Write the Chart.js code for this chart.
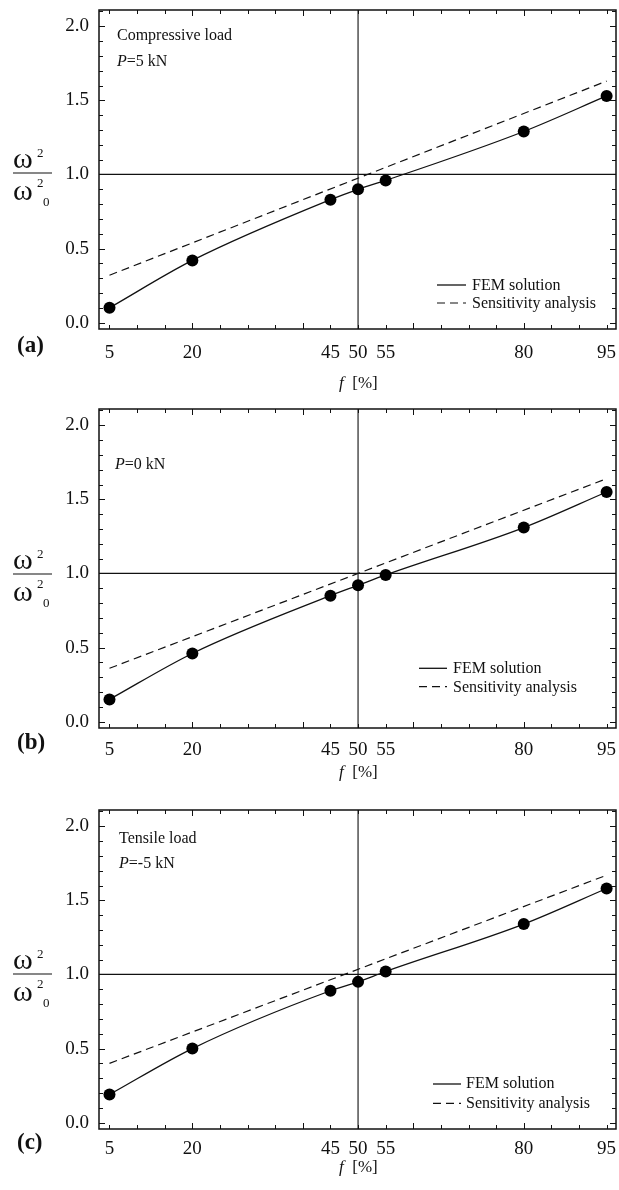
<!DOCTYPE html>
<html>
<head>
<meta charset="utf-8">
<script src="https://cdn.jsdelivr.net/npm/chart.js@4.4.1/dist/chart.umd.min.js"></script>
<style>
  html, body { margin: 0; padding: 0; background: #fff; }
  body { width: 619px; height: 1190px; position: relative; overflow: hidden; }
  canvas { position: absolute; left: 0; }
</style>
</head>
<body>
<canvas id="chartA" width="619" height="400" style="top:0px"></canvas>
<canvas id="chartB" width="619" height="400" style="top:399px"></canvas>
<canvas id="chartC" width="619" height="390" style="top:800px"></canvas>
<script>
// values
var fValues = [5, 20, 45, 50, 55, 80, 95];
var femCompressive = [0.10, 0.42, 0.83, 0.90, 0.96, 1.29, 1.53];
var femZero = [0.15, 0.46, 0.85, 0.92, 0.99, 1.31, 1.55];
var femTensile = [0.19, 0.50, 0.89, 0.95, 1.02, 1.34, 1.58];

var sensF = [5, 95];
var sensCompressive = [0.32, 1.63];
var sensZero = [0.36, 1.64];
var sensTensile = [0.40, 1.67];

var xTickLabels = [5, 20, 45, 50, 55, 80, 95];
var yTickLabels = [0.0, 0.5, 1.0, 1.5, 2.0];

var X_MIN = 3.1, X_MAX = 96.7;
var Y_MIN = -0.043, Y_MAX = 2.11;
var REF_Y = 1.0, REF_X = 50;

var SERIF = '"Liberation Serif", "Times New Roman", serif';
var INK = '#111';

function drawParts(ctx, parts, x, y, size) {
  parts.forEach(function (p) {
    ctx.font = (p.i ? 'italic ' : '') + (p.b ? 'bold ' : '') + size + 'px ' + SERIF;
    ctx.fillText(p.t, x, y);
    x += ctx.measureText(p.t).width;
  });
}

function seg(ctx, x1, y1, x2, y2) {
  ctx.beginPath();
  ctx.moveTo(x1, y1);
  ctx.lineTo(x2, y2);
  ctx.stroke();
}

// frame with inward ticks on all four sides, plus the annotation texts
var decorations = {
  id: 'decorations',
  afterDraw: function (chart) {
    var ctx = chart.ctx, a = chart.chartArea;
    var xs = chart.scales.x, ys = chart.scales.y;
    var o = chart.options.plugins.decorations;
    ctx.save();
    ctx.strokeStyle = INK;
    ctx.fillStyle = INK;
    ctx.lineWidth = 1;

    for (var v = 5; v <= 95; v += 5) {
      var px = Math.round(xs.getPixelForValue(v)) + 0.5;
      var len = v % 20 === 0 ? 6 : 4;
      seg(ctx, px, a.bottom, px, a.bottom - len);
      seg(ctx, px, a.top, px, a.top + len);
    }
    for (var i = 0; i <= 21; i++) {
      var py = Math.round(ys.getPixelForValue(i / 10)) + 0.5;
      var l2 = i % 5 === 0 ? 6 : 4;
      seg(ctx, a.left, py, a.left + l2, py);
      seg(ctx, a.right, py, a.right - l2, py);
    }
    ctx.lineWidth = 1.5;
    ctx.strokeRect(a.left, a.top, a.right - a.left, a.bottom - a.top);

    // notes in the upper left corner
    ctx.textBaseline = 'alphabetic';
    ctx.textAlign = 'left';
    o.notes.forEach(function (parts, k) {
      drawParts(ctx, parts, o.noteX, o.noteY[k], 16);
    });

    // legend
    var lg = o.legend;
    [0, 1].forEach(function (k) {
      var ds = chart.data.datasets[k];
      ctx.lineWidth = ds.borderWidth;
      ctx.setLineDash(ds.borderDash || []);
      seg(ctx, lg.x0, lg.y[k], lg.x1, lg.y[k]);
      ctx.setLineDash([]);
      drawParts(ctx, [{ t: ds.label }], lg.tx, lg.by[k], 16);
    });

    // y axis label  omega^2 / omega^2_0
    ctx.font = '30px ' + SERIF;
    ctx.fillText('\u03C9', 13, o.yl - 5);
    ctx.fillText('\u03C9', 13, o.yl + 27);
    ctx.font = '13px ' + SERIF;
    ctx.fillText('2', 37, o.yl - 16);
    ctx.fillText('2', 37, o.yl + 14);
    ctx.fillText('0', 43, o.yl + 33);
    ctx.lineWidth = 1.2;
    seg(ctx, 13, o.yl, 52, o.yl);

    // panel letter
    drawParts(ctx, [{ t: o.letter, b: 1 }], 17, o.letterY, 23);

    // x axis title
    drawParts(ctx, [{ t: 'f', i: 1 }, { t: '  [%]' }], 339, o.titleY, 17);
    ctx.restore();
  }
};

function makePanel(id, h, fem, sens, deco) {
  var femPts = fValues.map(function (f, i) { return { x: f, y: fem[i] }; });
  var sensPts = sensF.map(function (f, i) { return { x: f, y: sens[i] }; });
  return new Chart(document.getElementById(id), {
    type: 'line',
    data: {
      datasets: [
        {
          label: 'FEM solution',
          data: femPts,
          borderColor: INK,
          borderWidth: 1.3,
          pointRadius: 6,
          pointBackgroundColor: '#000',
          pointBorderWidth: 0,
          cubicInterpolationMode: 'monotone'
        },
        {
          label: 'Sensitivity analysis',
          data: sensPts,
          borderColor: INK,
          borderWidth: 1.2,
          borderDash: [8, 5],
          pointRadius: 0
        },
        {
          label: 'ref-h',
          data: [{ x: X_MIN, y: REF_Y }, { x: X_MAX, y: REF_Y }],
          borderColor: INK,
          borderWidth: 1.3,
          pointRadius: 0
        },
        {
          label: 'ref-v',
          data: [{ x: REF_X, y: Y_MIN }, { x: REF_X, y: Y_MAX }],
          borderColor: INK,
          borderWidth: 1.1,
          pointRadius: 0
        }
      ]
    },
    options: {
      responsive: false,
      animation: false,
      devicePixelRatio: 1,
      layout: { autoPadding: false, padding: { top: 10, right: 3, left: 0, bottom: 0 } },
      scales: {
        x: {
          type: 'linear',
          min: X_MIN,
          max: X_MAX,
          afterBuildTicks: function (s) { s.ticks = xTickLabels.map(function (v) { return { value: v }; }); },
          afterFit: function (s) {
            s.height = h - 329;
            s.paddingLeft = 0;
            s.paddingRight = 0;
          },
          grid: { display: false, drawTicks: false },
          border: { display: false },
          ticks: {
            autoSkip: false,
            maxRotation: 0,
            padding: deco.tickPad,
            color: INK,
            font: { family: SERIF, size: 19 }
          }
        },
        y: {
          type: 'linear',
          min: Y_MIN,
          max: Y_MAX,
          afterBuildTicks: function (s) { s.ticks = yTickLabels.map(function (v) { return { value: v }; }); },
          afterFit: function (s) {
            s.width = 99;
            s.paddingTop = 0;
            s.paddingBottom = 0;
          },
          grid: { display: false, drawTicks: false },
          border: { display: false },
          ticks: {
            padding: 10,
            color: INK,
            font: { family: SERIF, size: 19 },
            callback: function (v) { return Number(v).toFixed(1); }
          }
        }
      },
      plugins: {
        legend: { display: false },
        tooltip: { enabled: false },
        decorations: deco
      }
    },
    plugins: [decorations]
  });
}

makePanel('chartA', 400, femCompressive, sensCompressive, {
  notes: [[{ t: 'Compressive load' }], [{ t: 'P', i: 1 }, { t: '=5 kN' }]],
  noteX: 117, noteY: [39.5, 66],
  legend: { x0: 437, x1: 466, tx: 472, y: [285, 303], by: [290, 307.5] },
  yl: 173, letter: '(a)', letterY: 352, tickPad: 13, titleY: 388
});

makePanel('chartB', 400, femZero, sensZero, {
  notes: [[{ t: 'P', i: 1 }, { t: '=0 kN' }]],
  noteX: 115, noteY: [70],
  legend: { x0: 419, x1: 447, tx: 453, y: [269.3, 287.7], by: [274.3, 292.7] },
  yl: 175, letter: '(b)', letterY: 350, tickPad: 11, titleY: 377.5
});

makePanel('chartC', 390, femTensile, sensTensile, {
  notes: [[{ t: 'Tensile load' }], [{ t: 'P', i: 1 }, { t: '=-5 kN' }]],
  noteX: 119, noteY: [43.3, 68.3],
  legend: { x0: 433, x1: 461, tx: 466, y: [284, 303.3], by: [288.3, 308.3] },
  yl: 174, letter: '(c)', letterY: 349, tickPad: 9, titleY: 371.5
});
</script>
</body>
</html>
